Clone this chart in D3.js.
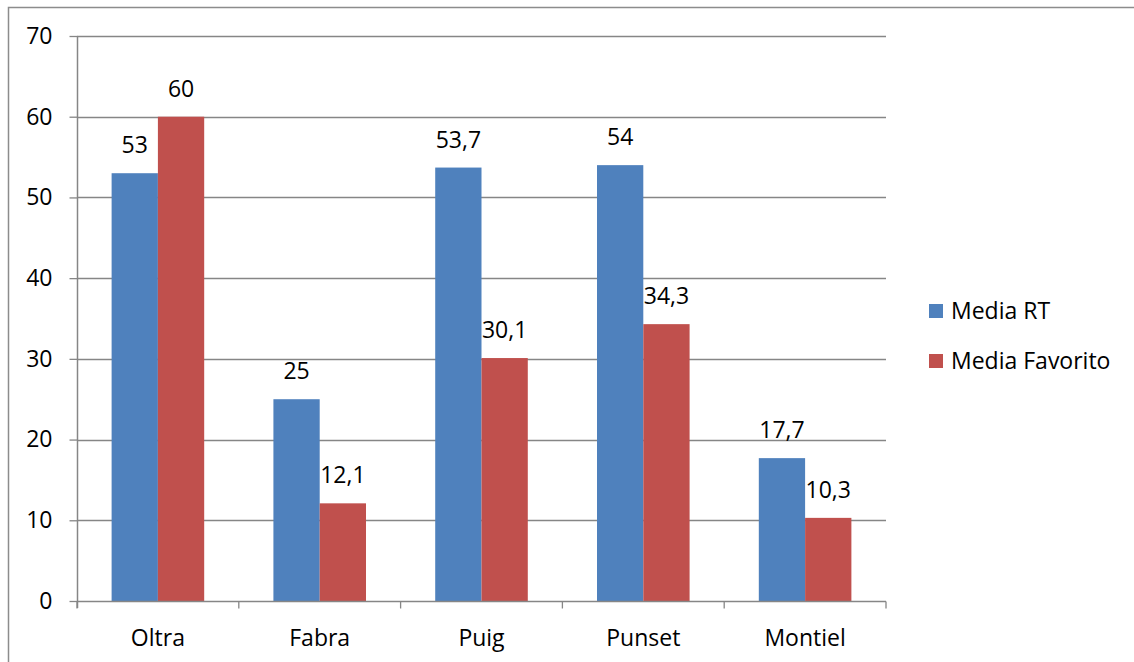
<!DOCTYPE html>
<html><head><meta charset="utf-8">
<script src="https://cdn.jsdelivr.net/npm/d3@7"></script>
<style>body{margin:0;background:#fff}svg{display:block}text{font-family:"Open Sans",Lato,sans-serif;fill:#000}</style>
</head><body><svg id="c" width="1134" height="662"></svg>
<script>
const categories = ["Oltra","Fabra","Puig","Punset","Montiel"];
const seriesNames = ["Media RT","Media Favorito"];
const mediaRT = [53,25,53.7,54,17.7];
const mediaFav = [60,12.1,30.1,34.3,10.3];
const yTicks = [0,10,20,30,40,50,60,70];
const colors = ["#4F81BD","#C0504D"];

const svg = d3.select("#c");
const L=77,R=886,T=36,B=601;
const fs = 23;
const fmt = v => String(v).replace(".", ",");

// outer border
svg.append("path").attr("d","M8.5,662 L8.5,7.5 L1134,7.5").attr("fill","none").attr("stroke","#8c8c8c").attr("stroke-width",1.5);

const y = d3.scaleLinear().domain([0,70]).range([B,T]);
const x0 = d3.scaleBand().domain(categories).range([L,R]).paddingInner(0).paddingOuter(0);
const bw = x0.bandwidth();
const x1 = d3.scaleBand().domain(seriesNames).range([bw*0.2139, bw*0.7861]).padding(0);

// gridlines
svg.append("g").selectAll("line").data(yTicks.filter(d=>d>0)).join("line")
  .attr("x1",L).attr("x2",R).attr("y1",d=>Math.round(y(d))+0.5).attr("y2",d=>Math.round(y(d))+0.5)
  .attr("stroke","#868686").attr("stroke-width",1.3);

// bars
const data = categories.map((c,i)=>({c, vals:[mediaRT[i],mediaFav[i]]}));
const g = svg.append("g");
data.forEach(d=>{
  d.vals.forEach((v,j)=>{
    const xx = x0(d.c)+x1(seriesNames[j]);
    g.append("rect").attr("x",xx).attr("y",y(v)).attr("width",x1.bandwidth()).attr("height",y(0)-y(v)).attr("fill",colors[j]);
    g.append("text").attr("x",xx+x1.bandwidth()/2).attr("y",y(v)-20).attr("text-anchor","middle")
      .attr("font-size",fs).text(fmt(v));
  });
});

// y axis
const ya = svg.append("g").attr("transform",`translate(${L+0.5},0)`)
  .call(d3.axisLeft(y).tickValues(yTicks).tickSize(8).tickPadding(17).tickFormat(d=>d));
ya.select(".domain").attr("stroke","#868686").attr("stroke-width",1.5).attr("d",`M0,${T}V${B+7}`);
ya.selectAll(".tick line").attr("stroke","#868686").attr("stroke-width",1.3);
ya.selectAll(".tick text").attr("font-size",fs).attr("font-family","Open Sans").attr("fill","#000");

// x axis
const xa = svg.append("g").attr("transform",`translate(0,${B+0.5})`);
xa.append("line").attr("x1",L).attr("x2",R).attr("stroke","#868686").attr("stroke-width",1.5);
xa.selectAll("line.t").data(categories.concat(["__end"])).join("line").attr("class","t")
  .attr("x1",(d,i)=>L+i*bw).attr("x2",(d,i)=>L+i*bw).attr("y1",0).attr("y2",7)
  .attr("stroke","#868686").attr("stroke-width",1.3);
xa.selectAll("text").data(categories).join("text")
  .attr("x",d=>x0(d)+bw/2).attr("y",44).attr("text-anchor","middle").attr("font-size",fs).text(d=>d);

// legend
const lg = svg.append("g");
seriesNames.forEach((s,i)=>{
  lg.append("rect").attr("x",929).attr("y",304+i*50).attr("width",14).attr("height",14).attr("fill",colors[i]);
  lg.append("text").attr("x",951).attr("y",319+i*50).attr("font-size",fs).text(s);
});
</script></body></html>
